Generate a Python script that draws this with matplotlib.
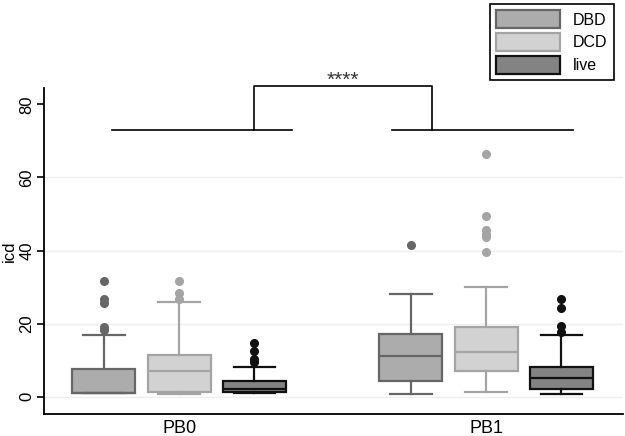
import numpy as np
import matplotlib.pyplot as plt
from matplotlib.patches import Patch

plt.rcParams['font.family'] = ['Liberation Sans', 'DejaVu Sans']

groups = ['PB0', 'PB1']
series = ['DBD', 'DCD', 'live']

# box stats per series, one value per group (PB0, PB1)
whislo = {'DBD': [1.0, 0.8], 'DCD': [0.7, 1.2], 'live': [1.0, 0.7]}
q1 = {'DBD': [1.0, 4.4], 'DCD': [1.2, 7.0], 'live': [1.2, 2.0]}
med = {'DBD': [1.0, 11.1], 'DCD': [7.1, 12.1], 'live': [2.1, 5.1]}
q3 = {'DBD': [7.6, 17.2], 'DCD': [11.3, 19.1], 'live': [4.4, 8.1]}
whishi = {'DBD': [17.0, 28.0], 'DCD': [26.0, 30.0], 'live': [8.1, 17.0]}
fliers = {
    'DBD': [[31.6, 26.7, 25.6, 19.2, 18.3], [41.4]],
    'DCD': [[31.6, 28.4, 26.7], [66.5, 49.5, 45.5, 44.6, 43.7, 39.5]],
    'live': [[14.7, 12.4, 10.3, 9.4], [26.7, 24.3, 19.4, 17.6]],
}

fills = {'DBD': '#acacac', 'DCD': '#d2d2d2', 'live': '#838383'}
edges = {'DBD': '#666666', 'DCD': '#a4a4a4', 'live': '#111111'}
offsets = {'DBD': -0.245, 'DCD': 0.0, 'live': 0.245}

fig = plt.figure(figsize=(6.25, 4.36), dpi=100)
ax = fig.add_axes([0.0704, 0.0505, 0.9266, 0.7475])

for s in series:
    stats = []
    for i in range(len(groups)):
        stats.append(dict(whislo=whislo[s][i], q1=q1[s][i], med=med[s][i],
                          q3=q3[s][i], whishi=whishi[s][i], fliers=fliers[s][i]))
    pos = [i + offsets[s] for i in range(len(groups))]
    lw = 1.6
    ax.bxp(stats, positions=pos, widths=0.205, capwidths=0.135, patch_artist=True,
           boxprops=dict(facecolor=fills[s], edgecolor=edges[s], linewidth=lw),
           medianprops=dict(color=edges[s], linewidth=lw),
           whiskerprops=dict(color=edges[s], linewidth=lw),
           capprops=dict(color=edges[s], linewidth=lw),
           flierprops=dict(marker='o', markerfacecolor=edges[s], markeredgecolor=edges[s],
                           markersize=5.5),
           manage_ticks=False, zorder=3)

ax.set_xlim(-0.44, 1.446)
ax.set_ylim(-4.73, 84.46)
ax.set_xticks([0, 1])
ax.set_xticklabels(groups, fontsize=13)
ax.tick_params(axis='x', length=0, pad=4)
ax.set_yticks([0, 20, 40, 60, 80])
ax.set_yticklabels(['0', '20', '40', '60', '80'], rotation=90, va='center', fontsize=12)
ax.tick_params(axis='y', length=5, width=1.2, pad=2)
ax.set_ylabel('icd', fontsize=12)
ax.yaxis.set_label_coords(-0.047, 0.5)
for y in [0, 20, 40, 60]:
    ax.axhline(y, color='#eeeeee', linewidth=1.0, zorder=0)
for sp in ['top', 'right']:
    ax.spines[sp].set_visible(False)
ax.spines['left'].set_linewidth(1.3)
ax.spines['bottom'].set_linewidth(1.3)

# significance bracket
kw = dict(color='black', linewidth=1.2, clip_on=False)
ax.plot([-0.22, 0.368], [73, 73], **kw)
ax.plot([0.694, 1.283], [73, 73], **kw)
ax.plot([0.244, 0.244, 0.823, 0.823], [73, 85, 85, 73], **kw)
ax.text(0.534, 84.0, '****', ha='center', va='bottom', fontsize=15, color='#333333')

handles = [Patch(facecolor=fills[s], edgecolor=edges[s], linewidth=1.6, label=s) for s in series]
leg = fig.legend(handles=handles, loc='upper right', bbox_to_anchor=(622 / 625, 1 + 4 / 436),
                 fancybox=False, edgecolor='black', framealpha=1, fontsize=11.5,
                 handlelength=4.0, handleheight=1.35, borderpad=0.4, labelspacing=0.3,
                 handletextpad=0.8)
leg.get_frame().set_linewidth(1.2)

fig.savefig('out.png', dpi=100)
